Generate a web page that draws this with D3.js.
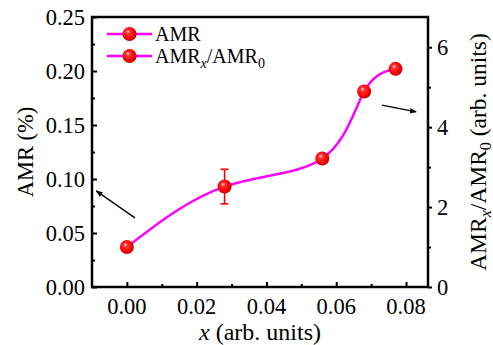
<!DOCTYPE html>
<html>
<head>
<meta charset="utf-8">
<script src="https://cdn.jsdelivr.net/npm/d3@7"></script>
<style>
  html, body { margin: 0; padding: 0; background: #fff; }
  svg { display: block; }
  svg text { font-family: "Liberation Serif", "DejaVu Serif", serif; }
</style>
</head>
<body>
<svg id="chart" width="493" height="345"></svg>
<script>
// data
const xVals = [0.0, 0.028, 0.056, 0.068, 0.077];
const amrVals = [0.037, 0.093, 0.119, 0.181, 0.202];
const amrErr = [0, 0.016, 0, 0, 0];
const amr0 = 0.037;

const leftTicks = [0, 0.05, 0.10, 0.15, 0.20, 0.25];
const rightTicks = [0, 2, 4, 6];
const bottomTicks = [0, 0.02, 0.04, 0.06, 0.08];

// arrows in data coordinates: [x1, y1, x2, y2]
const leftArrow = [0.0023, 0.064, -0.0088, 0.089];   // left (AMR) scale
const rightArrow = [0.0731, 4.55, 0.0829, 4.38];     // right (ratio) scale

const svg = d3.select("#chart").attr("font-family", "Liberation Serif, DejaVu Serif, serif");
const plot = { left: 92, right: 428, top: 17, bottom: 287 };

const x = d3.scaleLinear().domain([-0.01, 0.0863]).range([plot.left, plot.right]);
const yL = d3.scaleLinear().domain([0, 0.25]).range([plot.bottom, plot.top]);
const yR = d3.scaleLinear().domain([0, 0.25 / amr0]).range([plot.bottom, plot.top]);

const fmt2 = d3.format(".2f");

// gradient for the ball markers
const defs = svg.append("defs");
const grad = defs.append("radialGradient")
  .attr("id", "ball").attr("cx", "0.45").attr("cy", "0.45").attr("r", "0.6")
  .attr("fx", "0.38").attr("fy", "0.32");
grad.append("stop").attr("offset", "0").attr("stop-color", "#ffe0e0");
grad.append("stop").attr("offset", "0.25").attr("stop-color", "#ff3030");
grad.append("stop").attr("offset", "0.75").attr("stop-color", "#f00000");
grad.append("stop").attr("offset", "1").attr("stop-color", "#b00000");

defs.append("marker")
  .attr("id", "arrowhead").attr("viewBox", "0 0 10 10")
  .attr("refX", 9).attr("refY", 5)
  .attr("markerWidth", 7).attr("markerHeight", 7)
  .attr("markerUnits", "userSpaceOnUse")
  .attr("orient", "auto")
  .append("path").attr("d", "M0,1 L10,5 L0,9 Z").attr("fill", "#000");

// axes (ticks only, lines drawn as frame)
const gL = svg.append("g").attr("transform", `translate(${plot.left},0)`)
  .call(d3.axisRight(yL).tickValues(leftTicks).tickSize(5).tickFormat(""));
const gLm = svg.append("g").attr("transform", `translate(${plot.left},0)`)
  .call(d3.axisRight(yL).tickValues(leftTicks.slice(0, -1).map(d => d + 0.025)).tickSize(3).tickFormat(""));
const gB = svg.append("g").attr("transform", `translate(0,${plot.bottom})`)
  .call(d3.axisTop(x).tickValues(bottomTicks).tickSize(5).tickFormat(""));
const gBm = svg.append("g").attr("transform", `translate(0,${plot.bottom})`)
  .call(d3.axisTop(x).tickValues([0.01, 0.03, 0.05, 0.07]).tickSize(3).tickFormat(""));
const gR = svg.append("g").attr("transform", `translate(${plot.right},0)`)
  .call(d3.axisRight(yR).tickValues(rightTicks).tickSize(4).tickFormat(""));
const gRm = svg.append("g").attr("transform", `translate(${plot.right},0)`)
  .call(d3.axisRight(yR).tickValues([1, 3, 5]).tickSize(3).tickFormat(""));

[gL, gLm, gB, gBm, gR, gRm].forEach(g => {
  g.select(".domain").remove();
  g.selectAll(".tick line").attr("stroke", "#000").attr("stroke-width", 2);
});

// tick labels
svg.append("g").selectAll("text").data(leftTicks).join("text")
  .attr("x", plot.left - 7).attr("y", d => yL(d) + 7.5)
  .attr("text-anchor", "end").attr("font-size", 22.5)
  .text(d => fmt2(d));

svg.append("g").selectAll("text").data(bottomTicks).join("text")
  .attr("x", d => x(d)).attr("y", plot.bottom + 27)
  .attr("text-anchor", "middle").attr("font-size", 22.5)
  .text(d => fmt2(d));

svg.append("g").selectAll("text").data(rightTicks).join("text")
  .attr("x", plot.right + 9).attr("y", d => yR(d) + 7.5)
  .attr("text-anchor", "start").attr("font-size", 22.5)
  .text(d => d);

// frame
svg.append("rect")
  .attr("x", plot.left).attr("y", plot.top)
  .attr("width", plot.right - plot.left).attr("height", plot.bottom - plot.top)
  .attr("fill", "none").attr("stroke", "#000").attr("stroke-width", 2.5);

// curve
const pts = xVals.map((d, i) => [d, amrVals[i]]);
const line = d3.line().x(d => x(d[0])).y(d => yL(d[1])).curve(d3.curveNatural);
svg.append("path").datum(pts)
  .attr("d", line).attr("fill", "none")
  .attr("stroke", "#ff00ff").attr("stroke-width", 2.5);

// error bars
const errG = svg.append("g").attr("stroke", "#ff0000").attr("stroke-width", 1.6);
xVals.forEach((d, i) => {
  if (!amrErr[i]) return;
  const cx = x(d), y1 = yL(amrVals[i] - amrErr[i]), y2 = yL(amrVals[i] + amrErr[i]);
  errG.append("line").attr("x1", cx).attr("x2", cx).attr("y1", y1).attr("y2", y2);
  errG.append("line").attr("x1", cx - 4).attr("x2", cx + 4).attr("y1", y1).attr("y2", y1);
  errG.append("line").attr("x1", cx - 4).attr("x2", cx + 4).attr("y1", y2).attr("y2", y2);
});

// markers
svg.append("g").selectAll("circle").data(pts).join("circle")
  .attr("cx", d => x(d[0])).attr("cy", d => yL(d[1])).attr("r", 7)
  .attr("fill", "url(#ball)");

// arrows
svg.append("line")
  .attr("x1", x(leftArrow[0])).attr("y1", yL(leftArrow[1]))
  .attr("x2", x(leftArrow[2])).attr("y2", yL(leftArrow[3]))
  .attr("stroke", "#000").attr("stroke-width", 1.3).attr("marker-end", "url(#arrowhead)");
svg.append("line")
  .attr("x1", x(rightArrow[0])).attr("y1", yR(rightArrow[1]))
  .attr("x2", x(rightArrow[2])).attr("y2", yR(rightArrow[3]))
  .attr("stroke", "#000").attr("stroke-width", 1.3).attr("marker-end", "url(#arrowhead)");

// legend
const legendItems = ["AMR", "ratio"];
const lg = svg.append("g");
legendItems.forEach((name, i) => {
  const ly = 34 + i * 22;
  lg.append("line").attr("x1", 107).attr("x2", 152).attr("y1", ly).attr("y2", ly)
    .attr("stroke", "#ff00ff").attr("stroke-width", 2.5);
  lg.append("circle").attr("cx", 129.5).attr("cy", ly).attr("r", 7).attr("fill", "url(#ball)");
  const t = lg.append("text").attr("x", 155).attr("y", ly + 7).attr("font-size", 20);
  if (name === "AMR") {
    t.text("AMR");
  } else {
    t.append("tspan").text("AMR");
    t.append("tspan").attr("font-style", "italic").attr("font-size", 14).attr("dy", 5).text("x");
    t.append("tspan").attr("dy", -5).text("/AMR");
    t.append("tspan").attr("font-size", 14).attr("dy", 5).text("0");
  }
});

// axis titles
svg.append("text")
  .attr("transform", `translate(33,${(plot.top + plot.bottom) / 2}) rotate(-90)`)
  .attr("text-anchor", "middle").attr("font-size", 22.5)
  .text("AMR (%)");

const xt = svg.append("text")
  .attr("x", 260).attr("y", 340)
  .attr("text-anchor", "middle").attr("font-size", 24);
xt.append("tspan").attr("font-style", "italic").text("x");
xt.append("tspan").text(" (arb. units)");

const rt = svg.append("text")
  .attr("transform", `translate(486,${(plot.top + plot.bottom) / 2}) rotate(-90)`)
  .attr("text-anchor", "middle").attr("font-size", 23.5);
rt.append("tspan").text("AMR");
rt.append("tspan").attr("font-style", "italic").attr("font-size", 16).attr("dy", 5).text("x");
rt.append("tspan").attr("dy", -5).text("/AMR");
rt.append("tspan").attr("font-size", 16).attr("dy", 5).text("0");
rt.append("tspan").attr("dy", -5).text(" (arb. units)");
</script>
</body>
</html>
